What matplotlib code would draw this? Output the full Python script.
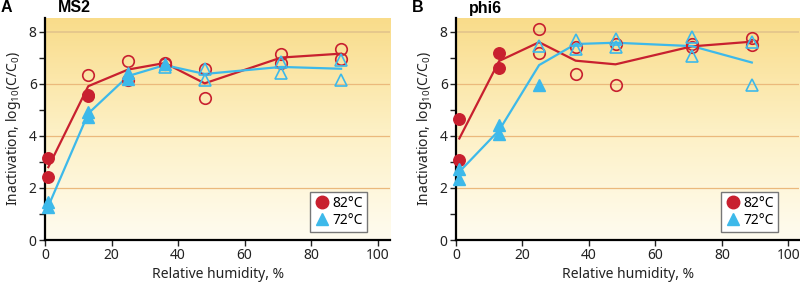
import numpy as np
import matplotlib
matplotlib.use("Agg")
import matplotlib.pyplot as plt
from matplotlib.lines import Line2D
from matplotlib.colors import LinearSegmentedColormap

plt.rcParams['font.family'] = ['Noto Sans', 'DejaVu Sans']
plt.rcParams['mathtext.fontset'] = 'custom'
plt.rcParams['mathtext.rm'] = 'Noto Sans'
plt.rcParams['mathtext.it'] = 'Noto Sans'
plt.rcParams['mathtext.default'] = 'regular'

RED = '#c8202f'
BLUE = '#3db9ea'

# ---------------- data ----------------
# Panel A: MS2
ms2_82_filled_x = [1, 1, 13, 13]
ms2_82_filled_y = [3.14, 2.41, 5.53, 5.56]
ms2_82_open_x = [13, 25, 25, 36, 36, 48, 48, 71, 71, 89, 89]
ms2_82_open_y = [6.34, 6.87, 6.13, 6.82, 6.77, 6.57, 5.44, 7.14, 6.80, 7.33, 6.97]
ms2_82_line_x = [1, 13, 25, 36, 48, 71, 89]
ms2_82_line_y = [2.80, 5.91, 6.55, 6.80, 6.02, 7.01, 7.16]

ms2_72_filled_x = [1, 1, 13, 13, 25, 25, 36]
ms2_72_filled_y = [1.47, 1.25, 4.93, 4.71, 6.18, 6.42, 6.75]
ms2_72_open_x = [36, 48, 48, 71, 71, 89, 89]
ms2_72_open_y = [6.65, 6.57, 6.14, 6.85, 6.41, 6.91, 6.14]
ms2_72_line_x = [1, 13, 25, 36, 48, 71, 89]
ms2_72_line_y = [1.30, 4.86, 6.30, 6.72, 6.38, 6.65, 6.58]

# Panel B: phi6
phi6_82_filled_x = [1, 1, 13, 13]
phi6_82_filled_y = [4.65, 3.07, 7.17, 6.59]
phi6_82_open_x = [25, 25, 36, 36, 48, 48, 71, 71, 89, 89]
phi6_82_open_y = [8.09, 7.19, 7.40, 6.36, 7.54, 5.95, 7.53, 7.40, 7.75, 7.49]
phi6_82_line_x = [1, 13, 25, 36, 48, 71, 89]
phi6_82_line_y = [3.90, 6.88, 7.60, 6.89, 6.75, 7.44, 7.62]

phi6_72_filled_x = [1, 1, 13, 13, 25]
phi6_72_filled_y = [2.71, 2.34, 4.42, 4.07, 5.95]
phi6_72_open_x = [25, 36, 36, 48, 48, 71, 71, 89, 89]
phi6_72_open_y = [7.45, 7.70, 7.35, 7.74, 7.42, 7.81, 7.06, 7.62, 5.95]
phi6_72_line_x = [1, 13, 25, 36, 48, 71, 89]
phi6_72_line_y = [2.62, 4.22, 6.72, 7.53, 7.58, 7.45, 6.82]

x_ticks = [0, 20, 40, 60, 80, 100]
y_ticks = [0, 2, 4, 6, 8]
legend_labels = ['82°C', '72°C']

panels = [
    dict(letter='A', title='MS2', rect=[45/800, 50/290, 345/800, 222/290], xmax=103.7,
         d82=(ms2_82_filled_x, ms2_82_filled_y, ms2_82_open_x, ms2_82_open_y, ms2_82_line_x, ms2_82_line_y),
         d72=(ms2_72_filled_x, ms2_72_filled_y, ms2_72_open_x, ms2_72_open_y, ms2_72_line_x, ms2_72_line_y),
         leg_x=0.933),
    dict(letter='B', title='phi6', rect=[456/800, 50/290, 343/800, 222/290], xmax=103.2,
         d82=(phi6_82_filled_x, phi6_82_filled_y, phi6_82_open_x, phi6_82_open_y, phi6_82_line_x, phi6_82_line_y),
         d72=(phi6_72_filled_x, phi6_72_filled_y, phi6_72_open_x, phi6_72_open_y, phi6_72_line_x, phi6_72_line_y),
         leg_x=0.938),
]

fig = plt.figure(figsize=(8, 2.9), dpi=100)
cmap = LinearSegmentedColormap.from_list('bg', ['#fffcf0', '#fdf0c4', '#f9dc8a'])
YMAX = 8.53
MS = 8.3

for p in panels:
    ax = fig.add_axes(p['rect'])
    ax.set_xlim(0, p['xmax'])
    ax.set_ylim(0, YMAX)
    grad = np.linspace(0, 1, 256).reshape(-1, 1)
    ax.imshow(grad, extent=[0, p['xmax'], 0, YMAX], origin='lower', aspect='auto',
              cmap=cmap, zorder=0)
    for gy in [2, 4, 6]:
        ax.axhline(gy, color='#ebb97c', lw=0.9, zorder=1)
    ax.axhline(8, color='#e3c48c', lw=1.2, zorder=1)

    for d, col, mk in [(p['d82'], RED, 'o'), (p['d72'], BLUE, '^')]:
        fx, fy, ox, oy, lx, ly = d
        ax.plot(lx, ly, color=col, lw=1.6, zorder=2)
        ax.plot(fx, fy, linestyle='none', marker=mk, ms=MS, color=col, mec=col,
                zorder=3, clip_on=False)
        ax.plot(ox, oy, linestyle='none', marker=mk, ms=MS, mfc='none', mec=col,
                mew=1.2, zorder=3, clip_on=False)

    for s in ['top', 'right']:
        ax.spines[s].set_visible(False)
    for s in ['left', 'bottom']:
        ax.spines[s].set_linewidth(1.6)
        ax.spines[s].set_zorder(2.5)
    ax.set_xticks(x_ticks)
    ax.set_yticks(y_ticks)
    ax.set_yticks([1, 3, 5, 7], minor=True)
    ax.tick_params(axis='both', which='both', direction='out', length=4, width=1.0,
                   labelsize=10, colors='#222222', pad=2)
    ax.set_xlabel('Relative humidity, %', fontsize=10, labelpad=3, color='#222222')
    ax.set_ylabel('Inactivation, log$_{10}$(C/C$_0$)', fontsize=10, labelpad=4, color='#222222')

    handles = [Line2D([], [], marker='o', color=RED, linestyle='none', ms=9),
               Line2D([], [], marker='^', color=BLUE, linestyle='none', ms=9)]
    leg = ax.legend(handles, legend_labels, loc='lower right',
                    bbox_to_anchor=(p['leg_x'], 0.036), fontsize=10, frameon=True,
                    fancybox=False, edgecolor='#777777', framealpha=1,
                    handletextpad=0.1, borderpad=0.3, labelspacing=0.15,
                    handlelength=1.2, borderaxespad=0)
    leg.get_frame().set_linewidth(1.0)
    leg.set_zorder(6)

    left_px = p['rect'][0] * 800
    bold_family = ['Liberation Sans', 'DejaVu Sans']
    fig.text((left_px - 44) / 800, 1 - 8 / 290, p['letter'], fontsize=11.5, fontweight='bold',
             family=bold_family, va='center', ha='left')
    fig.text((left_px + 13) / 800, 1 - 8 / 290, p['title'], fontsize=11.5, fontweight='bold',
             family=bold_family, va='center', ha='left')

fig.savefig('out.png', dpi=100)
